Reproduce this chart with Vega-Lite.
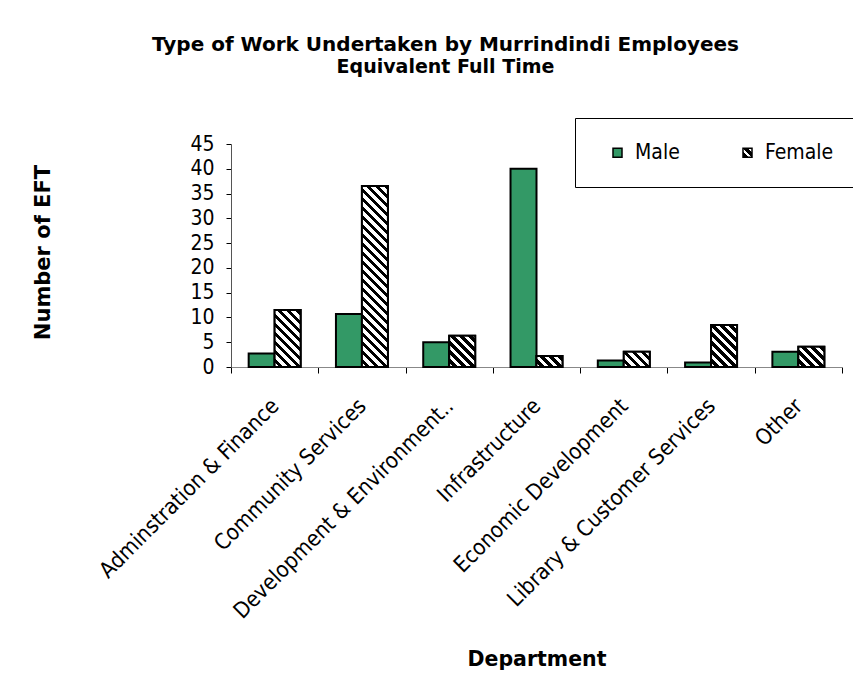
{
  "$schema": "https://vega.github.io/schema/vega-lite/v6.json",
  "autosize": "none",
  "width": 611,
  "height": 223,
  "padding": {"left": 231, "top": 144, "right": 11, "bottom": 321},
  "background": "#ffffff",
  "title": {
    "text": "Type of Work Undertaken by Murrindindi Employees",
    "subtitle": "Equivalent Full Time",
    "font": "DejaVu Sans",
    "fontSize": 20,
    "fontWeight": "bold",
    "color": "#000000",
    "subtitleFont": "DejaVu Sans",
    "subtitleFontSize": 19,
    "subtitleFontWeight": "bold",
    "subtitleColor": "#000000",
    "subtitlePadding": 3,
    "anchor": "middle",
    "dx": -91,
    "dy": -37
  },
  "params": [
    {"name": "hatch", "value": [
      {"offset": 0, "color": "#fff"}, {"offset": 0.02, "color": "#fff"}, {"offset": 0.02, "color": "#000"}, {"offset": 0.04, "color": "#000"},
      {"offset": 0.04, "color": "#fff"}, {"offset": 0.06, "color": "#fff"}, {"offset": 0.06, "color": "#000"}, {"offset": 0.08, "color": "#000"},
      {"offset": 0.08, "color": "#fff"}, {"offset": 0.10, "color": "#fff"}, {"offset": 0.10, "color": "#000"}, {"offset": 0.12, "color": "#000"},
      {"offset": 0.12, "color": "#fff"}, {"offset": 0.14, "color": "#fff"}, {"offset": 0.14, "color": "#000"}, {"offset": 0.16, "color": "#000"},
      {"offset": 0.16, "color": "#fff"}, {"offset": 0.18, "color": "#fff"}, {"offset": 0.18, "color": "#000"}, {"offset": 0.20, "color": "#000"},
      {"offset": 0.20, "color": "#fff"}, {"offset": 0.22, "color": "#fff"}, {"offset": 0.22, "color": "#000"}, {"offset": 0.24, "color": "#000"},
      {"offset": 0.24, "color": "#fff"}, {"offset": 0.26, "color": "#fff"}, {"offset": 0.26, "color": "#000"}, {"offset": 0.28, "color": "#000"},
      {"offset": 0.28, "color": "#fff"}, {"offset": 0.30, "color": "#fff"}, {"offset": 0.30, "color": "#000"}, {"offset": 0.32, "color": "#000"},
      {"offset": 0.32, "color": "#fff"}, {"offset": 0.34, "color": "#fff"}, {"offset": 0.34, "color": "#000"}, {"offset": 0.36, "color": "#000"},
      {"offset": 0.36, "color": "#fff"}, {"offset": 0.38, "color": "#fff"}, {"offset": 0.38, "color": "#000"}, {"offset": 0.40, "color": "#000"},
      {"offset": 0.40, "color": "#fff"}, {"offset": 0.42, "color": "#fff"}, {"offset": 0.42, "color": "#000"}, {"offset": 0.44, "color": "#000"},
      {"offset": 0.44, "color": "#fff"}, {"offset": 0.46, "color": "#fff"}, {"offset": 0.46, "color": "#000"}, {"offset": 0.48, "color": "#000"},
      {"offset": 0.48, "color": "#fff"}, {"offset": 0.50, "color": "#fff"}, {"offset": 0.50, "color": "#000"}, {"offset": 0.52, "color": "#000"},
      {"offset": 0.52, "color": "#fff"}, {"offset": 0.54, "color": "#fff"}, {"offset": 0.54, "color": "#000"}, {"offset": 0.56, "color": "#000"},
      {"offset": 0.56, "color": "#fff"}, {"offset": 0.58, "color": "#fff"}, {"offset": 0.58, "color": "#000"}, {"offset": 0.60, "color": "#000"},
      {"offset": 0.60, "color": "#fff"}, {"offset": 0.62, "color": "#fff"}, {"offset": 0.62, "color": "#000"}, {"offset": 0.64, "color": "#000"},
      {"offset": 0.64, "color": "#fff"}, {"offset": 0.66, "color": "#fff"}, {"offset": 0.66, "color": "#000"}, {"offset": 0.68, "color": "#000"},
      {"offset": 0.68, "color": "#fff"}, {"offset": 0.70, "color": "#fff"}, {"offset": 0.70, "color": "#000"}, {"offset": 0.72, "color": "#000"},
      {"offset": 0.72, "color": "#fff"}, {"offset": 0.74, "color": "#fff"}, {"offset": 0.74, "color": "#000"}, {"offset": 0.76, "color": "#000"},
      {"offset": 0.76, "color": "#fff"}, {"offset": 0.78, "color": "#fff"}, {"offset": 0.78, "color": "#000"}, {"offset": 0.80, "color": "#000"},
      {"offset": 0.80, "color": "#fff"}, {"offset": 0.82, "color": "#fff"}, {"offset": 0.82, "color": "#000"}, {"offset": 0.84, "color": "#000"},
      {"offset": 0.84, "color": "#fff"}, {"offset": 0.86, "color": "#fff"}, {"offset": 0.86, "color": "#000"}, {"offset": 0.88, "color": "#000"},
      {"offset": 0.88, "color": "#fff"}, {"offset": 0.90, "color": "#fff"}, {"offset": 0.90, "color": "#000"}, {"offset": 0.92, "color": "#000"},
      {"offset": 0.92, "color": "#fff"}, {"offset": 0.94, "color": "#fff"}, {"offset": 0.94, "color": "#000"}, {"offset": 0.96, "color": "#000"},
      {"offset": 0.96, "color": "#fff"}, {"offset": 0.98, "color": "#fff"}, {"offset": 0.98, "color": "#000"}, {"offset": 1.0, "color": "#000"}
    ]}
  ],
  "data": {"values": [
    {"Department": "Adminstration & Finance", "Gender": "Male", "EFT": 2.7},
    {"Department": "Adminstration & Finance", "Gender": "Female", "EFT": 11.5},
    {"Department": "Community Services", "Gender": "Male", "EFT": 10.7},
    {"Department": "Community Services", "Gender": "Female", "EFT": 36.5},
    {"Department": "Development & Environment..", "Gender": "Male", "EFT": 5.0},
    {"Department": "Development & Environment..", "Gender": "Female", "EFT": 6.3},
    {"Department": "Infrastructure", "Gender": "Male", "EFT": 40.0},
    {"Department": "Infrastructure", "Gender": "Female", "EFT": 2.2},
    {"Department": "Economic Development", "Gender": "Male", "EFT": 1.3},
    {"Department": "Economic Development", "Gender": "Female", "EFT": 3.1},
    {"Department": "Library & Customer Services", "Gender": "Male", "EFT": 0.9},
    {"Department": "Library & Customer Services", "Gender": "Female", "EFT": 8.5},
    {"Department": "Other", "Gender": "Male", "EFT": 3.1},
    {"Department": "Other", "Gender": "Female", "EFT": 4.1}
  ]},
  "encoding": {
    "x": {
      "field": "Department", "type": "nominal", "sort": null,
      "scale": {"paddingInner": 0, "paddingOuter": 0},
      "axis": {
        "title": "Department",
        "titleFont": "DejaVu Sans", "titleFontSize": 20.5, "titleFontWeight": "bold", "titleColor": "#000",
        "titleY": 298, "titleBaseline": "alphabetic",
        "labelAngle": -45, "labelAlign": "right", "labelBaseline": "middle",
        "labelFont": "DejaVu Sans Condensed, DejaVu Sans", "labelFontSize": 22, "labelColor": "#000",
        "labelPadding": 29, "labelLimit": 400,
        "tickBand": "extent", "tickSize": 6, "tickColor": "#000", "domainColor": "#888", "domainWidth": 1
      }
    },
    "xOffset": {"field": "Gender", "type": "nominal", "sort": ["Male", "Female"], "scale": {"paddingInner": 0, "paddingOuter": 0.68}},
    "y": {
      "field": "EFT", "type": "quantitative",
      "scale": {"domain": [0, 45], "nice": false},
      "axis": {
        "title": "Number of EFT",
        "titleFont": "DejaVu Sans", "titleFontSize": 21, "titleFontWeight": "bold", "titleColor": "#000",
        "titleX": -188, "titleY": 108, "titleAngle": -90, "titleAlign": "center", "titleBaseline": "middle",
        "values": [0, 5, 10, 15, 20, 25, 30, 35, 40, 45],
        "labelFont": "DejaVu Sans Condensed, DejaVu Sans", "labelFontSize": 21, "labelColor": "#000", "labelPadding": 12,
        "tickSize": 5, "tickColor": "#000", "domainColor": "#555", "grid": false
      }
    }
  },
  "layer": [
    {
      "mark": {"type": "bar", "strokeWidth": 2},
      "encoding": {
        "fill": {
          "field": "Gender", "type": "nominal",
          "scale": {"domain": ["Male", "Female"], "range": ["#339966", {"expr": "{gradient: 'linear', x1: 0, y1: 1, x2: 1, y2: 0, stops: [{offset: 0, color: '#000'}, {offset: 0.3, color: '#000'}, {offset: 0.3, color: '#fff'}, {offset: 0.5, color: '#fff'}, {offset: 0.5, color: '#000'}, {offset: 0.75, color: '#000'}, {offset: 0.75, color: '#fff'}, {offset: 1, color: '#fff'}]}"}]},
          "legend": {"title": null}
        },
        "stroke": {
          "field": "Gender", "type": "nominal",
          "scale": {"domain": ["Male", "Female"], "range": ["#000000", "#000000"]},
          "legend": {"title": null}
        }
      }
    },
    {
      "transform": [{"filter": "datum.Gender == 'Female'"}],
      "mark": {
        "type": "bar", "stroke": "#000", "strokeWidth": 2,
        "fill": {"expr": "{gradient: 'linear', x1: 0, y1: 1, x2: 224.9*bandwidth('xOffset')/(pow(bandwidth('xOffset'),2)+pow(height-scale('y',datum.EFT),2)), y2: 1-224.9*(height-scale('y',datum.EFT))/(pow(bandwidth('xOffset'),2)+pow(height-scale('y',datum.EFT),2)), stops: hatch}"}
      }
    }
  ],
  "config": {
    "view": {"stroke": null},
    "axis": {"grid": false},
    "legend": {
      "orient": "none", "legendX": 344, "legendY": -26,
      "direction": "horizontal", "padding": 24,
      "strokeColor": "#000", "fillColor": "#fff",
      "symbolType": "square", "symbolSize": 81, "symbolStrokeWidth": 1.5,
      "symbolOffset": 8,
      "labelFont": "DejaVu Sans Condensed, DejaVu Sans", "labelFontSize": 21, "labelColor": "#000",
      "labelOffset": 7, "columnPadding": 49
    }
  }
}
